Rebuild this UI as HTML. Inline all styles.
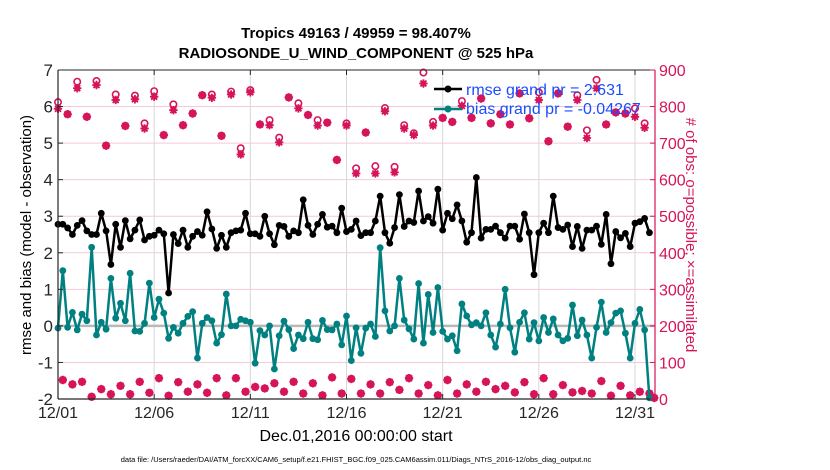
<!DOCTYPE html>
<html><head><meta charset="utf-8"><style>
html,body{margin:0;padding:0;background:#fff;}
svg{display:block;font-family:"Liberation Sans",sans-serif;}
</style></head><body>
<svg id="chart" width="830" height="470" viewBox="0 0 830 470" xmlns="http://www.w3.org/2000/svg">
<text x="356" y="38" text-anchor="middle" font-size="15" font-weight="bold">Tropics 49163 / 49959 = 98.407%</text>
<text x="356" y="58" text-anchor="middle" font-size="15" font-weight="bold">RADIOSONDE_U_WIND_COMPONENT @ 525 hPa</text>
<g id="grid"></g>
<g id="marks"></g>
<g id="axes"></g>
<g>
<line x1="434" y1="89" x2="462" y2="89" stroke="#000" stroke-width="2.5"/><circle cx="448" cy="89" r="3.5" fill="#000"/>
<line x1="434" y1="109" x2="462" y2="109" stroke="#008080" stroke-width="2.5"/><circle cx="448" cy="109" r="3.5" fill="#008080"/>
<text x="466" y="95" font-size="16" fill="#1a4dff">rmse grand pr = 2.631</text>
<text x="466" y="114" font-size="16" fill="#1a4dff">bias grand pr = -0.04267</text>
</g>
<text transform="translate(31,235) rotate(-90)" text-anchor="middle" font-size="15">rmse and bias (model - observation)</text>
<text transform="translate(686,235) rotate(90)" text-anchor="middle" font-size="15" fill="#d6145a"># of obs: o=possible; ×=assimilated</text>
<text x="356" y="441" text-anchor="middle" font-size="16">Dec.01,2016 00:00:00 start</text>
<text x="356" y="462" text-anchor="middle" font-size="7.5">data file: /Users/raeder/DAI/ATM_forcXX/CAM6_setup/f.e21.FHIST_BGC.f09_025.CAM6assim.011/Diags_NTrS_2016-12/obs_diag_output.nc</text>
</svg>
<script>
const xTickLabels=["12/01","12/06","12/11","12/16","12/21","12/26","12/31"];
const xTickDays=[0,5,10,15,20,25,30];
const yLeftTicks=[-2,-1,0,1,2,3,4,5,6,7];
const yRightTicks=[0,100,200,300,400,500,600,700,800,900];
const rmse=[2.78,2.78,2.68,2.5,2.75,2.88,2.6,2.5,2.5,3.08,2.6,1.68,2.78,2.15,2.88,2.38,2.62,2.9,2.35,2.45,2.48,2.62,2.52,0.9,2.5,2.25,2.62,2.15,2.45,2.58,2.48,3.12,2.65,2.12,2.48,2.15,2.55,2.6,2.62,3.08,2.52,2.52,2.45,3.0,2.52,2.22,2.75,2.72,2.45,2.6,2.55,3.45,2.75,2.5,2.78,3.05,2.7,
2.73,2.55,3.22,2.58,2.64,2.87,2.47,2.55,2.55,2.87,3.55,2.55,2.26,2.69,3.59,2.72,2.87,2.83,3.69,2.87,2.99,2.81,3.74,2.62,3.08,2.93,3.31,2.87,2.29,2.55,4.06,2.40,2.64,2.64,2.73,2.55,2.40,2.73,2.73,2.37,3.06,2.55,1.40,2.55,2.81,2.55,3.55,2.69,2.64,2.76,2.17,2.72,2.12,2.62,2.62,2.73,2.23,3.05,1.70,2.58,2.41,2.53,2.17,2.81,2.85,2.94,2.55];
const bias=[-0.06,1.51,-0.04,0.37,-0.11,0.32,0.14,2.15,-0.25,0.10,-0.09,1.30,0.21,0.62,0.14,1.44,-0.14,-0.15,0.07,1.17,0.23,0.73,0.35,-0.34,-0.04,-0.20,0.07,0.26,0.39,-0.88,0.07,0.23,0.14,-0.47,-0.24,0.87,0.0,0.0,0.18,0.14,0.1,-1.02,-0.13,-0.25,0.0,-1.18,-0.27,0.13,-0.1,-0.62,-0.25,-0.35,0.1,-0.35,-0.38,0.15,-0.1,
-0.11,0.05,-0.52,0.27,-0.95,-0.05,-0.75,-0.06,0.05,-0.29,2.14,0.41,-0.14,0.0,1.30,0.16,-0.08,-0.36,1.16,-0.47,0.86,-0.18,1.05,-0.15,-0.36,-0.27,-0.68,0.6,0.27,0.03,0.09,0.0,0.36,-0.25,-0.58,0.05,1.0,-0.05,-0.72,0.1,0.36,-0.36,0.09,-0.41,0.23,-0.18,0.19,-0.25,-0.41,-0.34,0.57,-0.27,0.16,-0.25,-0.88,-0.04,0.65,-0.18,0.09,0.35,0.41,-0.2,-0.88,0.07,0.45,-0.11,-1.97];
const possible=[812,52,779,40,868,47,772,6,870,27,693,13,833,36,747,13,830,47,754,17,842,57,722,9,806,46,749,20,781,40,831,17,
833,57,720,10,841,57,686,20,845,33,751,29,763,43,715,20,825,47,809,15,777,43,763,10,756,59,654,15,754,55,631,
15,729,40,637,15,796,46,635,25,749,57,727,15,893,38,758,10,769,52,758,15,815,40,769,20,822,47,754,27,779,36,
751,18,836,46,768,13,839,57,705,13,836,38,745,18,831,22,735,15,873,49,751,9,784,36,781,10,795,20,754,15,3];
const assimilated=[794,52,779,40,850,47,772,6,859,27,693,13,818,36,747,13,820,47,740,17,827,57,722,9,790,46,749,20,781,40,831,17,
824,57,720,10,833,57,669,20,839,33,751,29,749,43,702,20,825,47,795,15,777,43,748,10,756,59,654,15,748,55,617,
15,729,40,617,15,787,46,620,25,740,57,722,15,863,38,748,10,769,52,758,15,802,40,769,20,822,47,754,27,779,36,
751,18,836,46,768,13,818,57,705,13,836,38,745,18,818,22,714,15,850,49,751,9,784,36,781,10,772,20,742,15,3];

const X0=58,X1=655,Y0=70,Y1=399;
const dayPx=(635-58)/30;
function xDay(d){return X0+d*dayPx;}
function xIdx(i){return xDay(i/4);}
function yL(v){return Y1-(v+2)*(Y1-Y0)/9;}
function yR(c){return Y1-c*(Y1-Y0)/900;}
const NS="http://www.w3.org/2000/svg";
function mk(tag,attrs,parent){const e=document.createElementNS(NS,tag);for(const k in attrs)e.setAttribute(k,attrs[k]);parent.appendChild(e);return e;}
const grid=document.getElementById('grid'),marks=document.getElementById('marks'),axes=document.getElementById('axes');
const PINK="#d6145a",TEAL="#008080";

yLeftTicks.forEach(v=>{if(v>-2&&v<7){const l=mk('line',{x1:X0,x2:X1,y1:yL(v),y2:yL(v),stroke:'#f4c9d8','stroke-width':1},grid);

}});
xTickDays.forEach(d=>{if(d>0){const l=mk('line',{x1:xDay(d),x2:xDay(d),y1:Y0,y2:Y1,stroke:'#d8d8d8','stroke-width':1},grid);

}});
const zl=mk('line',{x1:X0,x2:X1,y1:yL(0),y2:yL(0),stroke:'#b8b8b8','stroke-width':2.5},grid);



possible.forEach((p,i)=>{
  const a=assimilated[i];const x=xIdx(i);
  const g=mk('g',{},marks);
  
  
  mk('circle',{cx:x,cy:yR(p),r:3.2,fill:'#fff',stroke:PINK,'stroke-width':1.6},g);
  const y=yR(a),s=4.2,t=3;
  mk('circle',{cx:x,cy:y,r:3,fill:PINK},g);
  mk('path',{d:`M${x-s} ${y}H${x+s}M${x} ${y-s}V${y+s}M${x-t} ${y-t}L${x+t} ${y+t}M${x-t} ${y+t}L${x+t} ${y-t}`,stroke:PINK,'stroke-width':1.8},g);
});
function series(vals,color,name){
  const d=vals.map((v,i)=>(i?'L':'M')+xIdx(i).toFixed(1)+' '+yL(v).toFixed(1)).join('');
  const p=mk('path',{d:d,fill:'none',stroke:color,'stroke-width':2.5,'stroke-linejoin':'round'},marks);
  
  
  vals.forEach((v,i)=>{const c=mk('circle',{cx:xIdx(i),cy:yL(v),r:3.4,fill:color},marks);
    
    });
}
series(bias,TEAL,'bias');
series(rmse,'#000','rmse');

mk('line',{x1:X0,x2:X1,y1:Y0,y2:Y0,stroke:'#262626','stroke-width':1},axes);
mk('line',{x1:X0,x2:X1,y1:Y1,y2:Y1,stroke:'#262626','stroke-width':1.2},axes);
mk('line',{x1:X0,x2:X0,y1:Y0,y2:Y1,stroke:'#262626','stroke-width':1.2},axes);
mk('line',{x1:X1,x2:X1,y1:Y0,y2:Y1,stroke:PINK,'stroke-width':1.2},axes);
yLeftTicks.forEach(v=>{
  mk('line',{x1:X0,x2:X0+5,y1:yL(v),y2:yL(v),stroke:'#262626'},axes);
  const t=mk('text',{x:X0-5,y:yL(v)+6,'text-anchor':'end','font-size':17,fill:'#262626'},axes);
  t.textContent=v;
  
  
});
yRightTicks.forEach(c=>{
  mk('line',{x1:X1-5,x2:X1,y1:yR(c),y2:yR(c),stroke:PINK},axes);
  const t=mk('text',{x:X1+4,y:yR(c)+6,'font-size':16,fill:PINK},axes);
  t.textContent=c;
  
  
});
xTickDays.forEach((d,i)=>{
  mk('line',{x1:xDay(d),x2:xDay(d),y1:Y1-5,y2:Y1,stroke:'#262626'},axes);
  mk('line',{x1:xDay(d),x2:xDay(d),y1:Y0,y2:Y0+5,stroke:'#262626'},axes);
  const t=mk('text',{x:xDay(d),y:Y1+19,'text-anchor':'middle','font-size':16,fill:'#262626'},axes);
  t.textContent=xTickLabels[i];
  
  
});
</script>
</body></html>
